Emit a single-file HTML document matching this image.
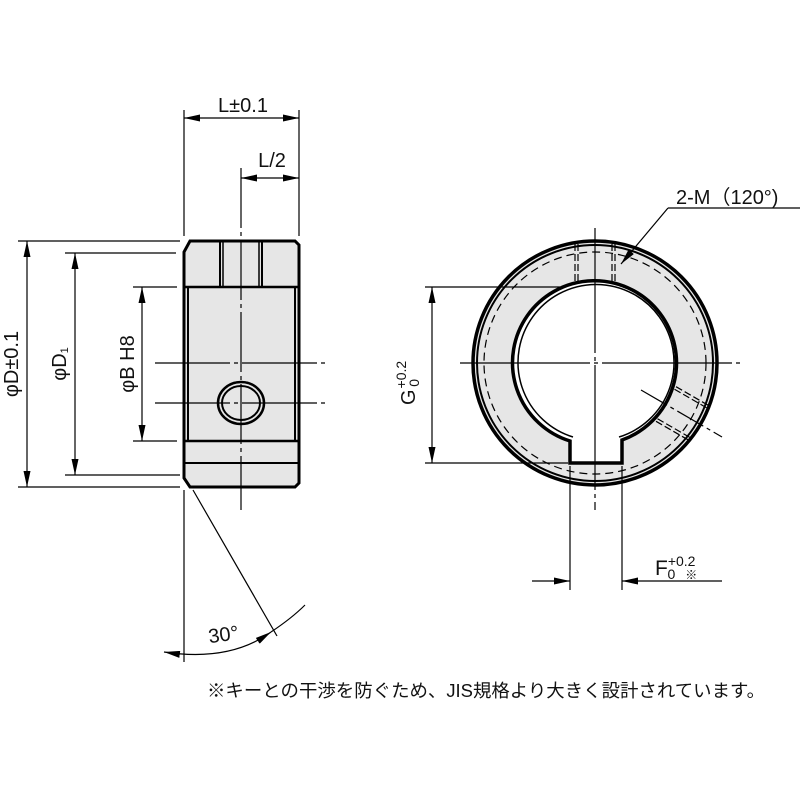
<!DOCTYPE html>
<html><head><meta charset="utf-8"><style>
html,body{margin:0;padding:0;background:#fff;}
svg{display:block;}
text{font-family:"Liberation Sans","Noto Sans CJK JP",sans-serif;fill:#111;}
</style></head><body>
<svg width="800" height="800" viewBox="0 0 800 800" xmlns="http://www.w3.org/2000/svg">
<defs>
<marker id="a" markerWidth="16" markerHeight="7" refX="16" refY="3.5" orient="auto" markerUnits="userSpaceOnUse"><path d="M0,0 L16,3.5 L0,7 z" fill="#000"/></marker>
<marker id="b" markerWidth="16" markerHeight="7" refX="0" refY="3.5" orient="auto" markerUnits="userSpaceOnUse"><path d="M16,0 L0,3.5 L16,7 z" fill="#000"/></marker>
</defs>
<g stroke="#000" stroke-width="1.2" fill="none">
<!-- left view body -->
<path d="M190,241 L295,241 L299,245 L299,483 L295,487 L190,487 L184,478 L184,252 Z" fill="#e6e6e6" stroke-width="3"/>
<line x1="184" y1="287" x2="299" y2="287" stroke-width="2.5"/>
<line x1="184" y1="441" x2="299" y2="441" stroke-width="2.5"/>
<line x1="184" y1="463" x2="299" y2="463" stroke-width="2"/>
<line x1="188" y1="287" x2="188" y2="441" stroke-width="2"/>
<line x1="295" y1="287" x2="295" y2="441" stroke-width="2"/>
<line x1="220" y1="241" x2="220" y2="287" stroke-width="2"/>
<line x1="223" y1="241" x2="223" y2="287" stroke-width="1.5"/>
<line x1="259" y1="241" x2="259" y2="287" stroke-width="1.5"/>
<line x1="262" y1="241" x2="262" y2="287" stroke-width="2"/>
<ellipse cx="241" cy="403" rx="23" ry="21" stroke-width="2.5"/>
<ellipse cx="241" cy="403" rx="19" ry="17" stroke-width="2"/>
<!-- centerlines left -->
<line x1="241" y1="168" x2="241" y2="510" stroke-dasharray="60,4,4,4"/>
<line x1="155" y1="363" x2="325" y2="363" stroke-dasharray="75,4,4,4"/>
<line x1="155" y1="403" x2="325" y2="403" stroke-dasharray="75,4,4,4"/>
<!-- dimensions left -->
<line x1="184" y1="110" x2="184" y2="236"/>
<line x1="299" y1="110" x2="299" y2="236"/>
<line x1="184" y1="118" x2="299" y2="118" marker-start="url(#b)" marker-end="url(#a)"/>
<line x1="241" y1="178" x2="299" y2="178" marker-start="url(#b)" marker-end="url(#a)"/>
<line x1="18" y1="241" x2="180" y2="241"/>
<line x1="18" y1="487" x2="180" y2="487"/>
<line x1="27" y1="241" x2="27" y2="487" marker-start="url(#b)" marker-end="url(#a)"/>
<line x1="65" y1="253" x2="176" y2="253"/>
<line x1="65" y1="475" x2="180" y2="475"/>
<line x1="75" y1="253" x2="75" y2="475" marker-start="url(#b)" marker-end="url(#a)"/>
<line x1="133" y1="287" x2="177" y2="287"/>
<line x1="133" y1="441" x2="177" y2="441"/>
<line x1="142" y1="287" x2="142" y2="441" marker-start="url(#b)" marker-end="url(#a)"/>
<!-- 30 deg -->
<line x1="184" y1="490" x2="184" y2="662"/>
<line x1="193" y1="490" x2="277" y2="636"/>
<path d="M164,652 Q230,662 271,632" marker-start="url(#b)"/>
<path d="M271,632 Q292,618 305,605" marker-start="url(#a)"/>
<!-- right view -->
<circle cx="595" cy="363" r="122" fill="#e6e6e6" stroke-width="3.5"/>
<circle cx="595" cy="363" r="118" stroke-width="2"/>
<circle cx="595" cy="363" r="111" stroke-dasharray="8,5"/>
<path d="M570,441 A82,82 0 1 1 622,440 L622,463 L570,463 Z" fill="#fff" stroke-width="3.5"/>
<path d="M573,437 A78,78 0 1 1 619,437" stroke-width="1.5"/>
<g stroke-dasharray="7,3">
<line x1="575" y1="244" x2="575" y2="282"/><line x1="578" y1="244" x2="578" y2="282"/>
<line x1="612" y1="244" x2="612" y2="282"/><line x1="615" y1="244" x2="615" y2="282"/>
</g>
<g transform="rotate(120 595 363)" stroke-dasharray="7,3">
<line x1="575" y1="244" x2="575" y2="282"/><line x1="578" y1="244" x2="578" y2="282"/>
<line x1="612" y1="244" x2="612" y2="282"/><line x1="615" y1="244" x2="615" y2="282"/>
</g>
<line x1="641" y1="390" x2="722" y2="437" stroke-dasharray="30,4,4,4"/>
<line x1="595" y1="228" x2="595" y2="510" stroke-dasharray="125,4,4,4"/>
<line x1="460" y1="363" x2="740" y2="363" stroke-dasharray="130,4,4,4"/>
<!-- G -->
<line x1="425" y1="287" x2="560" y2="287"/>
<line x1="425" y1="463" x2="568" y2="463"/>
<line x1="432" y1="287" x2="432" y2="463" marker-start="url(#b)" marker-end="url(#a)"/>
<!-- F -->
<line x1="570" y1="466" x2="570" y2="590"/>
<line x1="622" y1="466" x2="622" y2="590"/>
<line x1="532" y1="581" x2="570" y2="581" marker-end="url(#a)"/>
<line x1="622" y1="581" x2="722" y2="581" marker-start="url(#b)"/>
<!-- 2-M leader -->
<line x1="668" y1="208" x2="800" y2="208"/>
<line x1="668" y1="208" x2="621" y2="264" marker-end="url(#a)"/>
</g>
<text x="243" y="112" font-size="20" text-anchor="middle">L±0.1</text>
<text x="272" y="167" font-size="20" text-anchor="middle">L/2</text>
<text transform="translate(18,364) rotate(-90)" font-size="20" text-anchor="middle">φD±0.1</text>
<text transform="translate(66,364) rotate(-90)" font-size="20" text-anchor="middle">φD<tspan font-size="11" dy="2">1</tspan></text>
<text transform="translate(134,364) rotate(-90)" font-size="20" text-anchor="middle">φB  H8</text>
<text x="208" y="641" font-size="20" transform="rotate(-8 225 632)">30°</text>
<text x="676" y="204" font-size="20">2-M（120°)</text>
<text transform="translate(415,405) rotate(-90)" font-size="20">G<tspan font-size="14" dy="-9" dx="1">+0.2</tspan><tspan font-size="14" dy="13" dx="-26">0</tspan></text>
<text x="655" y="575" font-size="21">F<tspan font-size="14" dy="-9">+0.2</tspan><tspan font-size="14" dy="13" dx="-28">0</tspan><tspan font-size="12" dx="10">※</tspan></text>
<text x="207" y="697" font-size="18" textLength="558" lengthAdjust="spacingAndGlyphs">※キーとの干渉を防ぐため、JIS規格より大きく設計されています。</text>
</svg>
</body></html>
